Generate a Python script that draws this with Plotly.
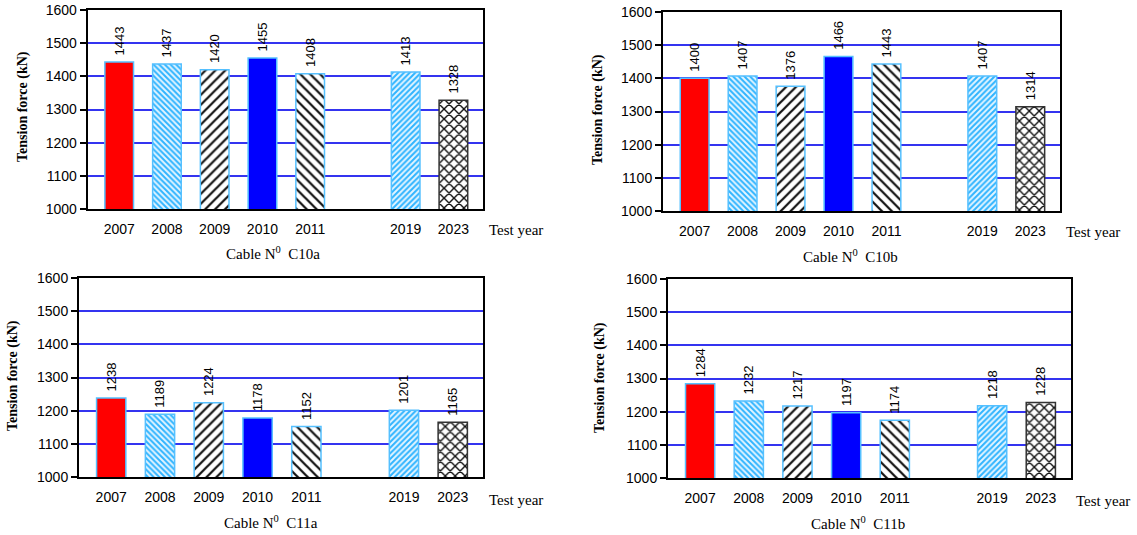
import plotly.graph_objects as go

# ---- data ----
years = ["2007", "2008", "2009", "2010", "2011", "2019", "2023"]
categories = ["2007", "2008", "2009", "2010", "2011", " ", "2019", "2023"]
c10a = [1443, 1437, 1420, 1455, 1408, 1413, 1328]
c10b = [1400, 1407, 1376, 1466, 1443, 1407, 1314]
c11a = [1238, 1189, 1224, 1178, 1152, 1201, 1165]
c11b = [1284, 1232, 1217, 1197, 1174, 1218, 1228]
cable_names = ["C10a", "C10b", "C11a", "C11b"]
y_ticks = [1000, 1100, 1200, 1300, 1400, 1500, 1600]

# ---- styles (one per test year) ----
W, H = 1137, 535
LB = "#55C0FF"
styles = [
    dict(color="#FF0000", line=LB),
    dict(color="#E4F5FF", line=LB, shape="\\", fg="#2FB4FF", size=4, sol=0.5),
    dict(color="#FFFFFF", line=LB, shape="/", fg="#111111", size=7, sol=0.32),
    dict(color="#0000FF", line=LB),
    dict(color="#FFFFFF", line=LB, shape="\\", fg="#111111", size=7, sol=0.32),
    dict(color="#E4F5FF", line=LB, shape="/", fg="#2FB4FF", size=4, sol=0.5),
    dict(color="#FFFFFF", line="#333333", shape="x", fg="#111111", size=7, sol=0.36),
]

# panel pixel boxes: (x0, x1, ytop, ybottom)
panels = [
    (87.7, 483, 10, 209),
    (663, 1060, 12, 211),
    (79, 483, 278, 477),
    (668, 1071, 279, 478),
]
cable_pos = [(273, 253), (850, 256), (271, 522), (858, 523)]
testyear_pos = [(487, 230), (1064, 232), (487, 500), (1074, 501)]
ytitle_pos = [(23, 107), (598, 110), (13, 376), (600, 378)]

series = [c10a, c10b, c11a, c11b]

fig = go.Figure()
layout = dict(
    width=W, height=H,
    margin=dict(l=0, r=0, t=0, b=0, autoexpand=False),
    paper_bgcolor="white", plot_bgcolor="white",
    showlegend=False, barmode="overlay",
    annotations=[],
)

for i, (vals, box) in enumerate(zip(series, panels)):
    n = "" if i == 0 else str(i + 1)
    for yr, v, st in zip(years, vals, styles):
        marker = dict(color=st["color"], line=dict(color=st["line"], width=1.5))
        if "shape" in st:
            marker["pattern"] = dict(shape=st["shape"], fgcolor=st["fg"], bgcolor=st["color"],
                                     size=st["size"], solidity=st["sol"], fillmode="replace",
                                     fgopacity=1)
        fig.add_trace(go.Bar(
            x=[yr], y=[v],
            xaxis="x" + n, yaxis="y" + n,
            width=0.6, marker=marker,
            text=["\u00a0" + str(v)],
            textposition="outside", textangle=-90, constraintext="none",
            textfont=dict(family="Arial, Liberation Sans", size=13, color="black"),
            cliponaxis=False,
        ))
    x0, x1, yt, yb = box
    layout["xaxis" + n] = dict(
        domain=[x0 / W, x1 / W], anchor="y" + n, automargin=False,
        type="category", categoryorder="array", categoryarray=categories,
        tickvals=years, ticktext=years,
        range=[-0.66, 7.62],
        showgrid=False, ticks="", ticklabelstandoff=6,
        tickfont=dict(family="Arial, Liberation Sans", size=14, color="black"),
        showline=True, linecolor="black", linewidth=2, mirror=True,
    )
    layout["yaxis" + n] = dict(
        domain=[1 - yb / H, 1 - yt / H], anchor="x" + n, automargin=False,
        range=[1000, 1600], tickvals=y_ticks,
        showgrid=True, gridcolor="#3434F0", gridwidth=1.5,
        ticks="outside", ticklen=6, tickcolor="black", tickwidth=1.5,
        tickfont=dict(family="Arial, Liberation Sans", size=14, color="black"),
        showline=True, linecolor="black", linewidth=2, mirror=True,
        zeroline=False,
    )
    cx, cy = cable_pos[i]
    layout["annotations"].append(dict(
        x=cx / W, y=1 - cy / H, xref="paper", yref="paper",
        text="Cable N<sup>0</sup>  " + cable_names[i], showarrow=False,
        font=dict(family="Liberation Serif, Times New Roman", size=15, color="black"),
        xanchor="center", yanchor="middle",
    ))
    tx, ty = testyear_pos[i]
    layout["annotations"].append(dict(
        x=tx / W, y=1 - ty / H, xref="paper", yref="paper",
        text="Test year", showarrow=False,
        font=dict(family="Liberation Serif, Times New Roman", size=15, color="black"),
        xanchor="left", yanchor="middle",
    ))
    ax, ay = ytitle_pos[i]
    layout["annotations"].append(dict(
        x=ax / W, y=1 - ay / H, xref="paper", yref="paper",
        text="<b>Tension force (kN)</b>", showarrow=False, textangle=-90,
        font=dict(family="Liberation Serif, Times New Roman", size=14, color="black"),
        xanchor="center", yanchor="middle",
    ))

fig.update_layout(**layout)
post = (
    "document.documentElement.style.margin='0';"
    "document.documentElement.style.overflow='hidden';"
    "document.body.style.margin='0';"
    "document.body.style.overflow='hidden';"
    "var d=document.getElementById('{plot_id}');"
    "d.style.position='fixed';d.style.left='0px';d.style.top='0px';"
)
fig.write_html("out.html", config={"displayModeBar": False}, post_script=post)
